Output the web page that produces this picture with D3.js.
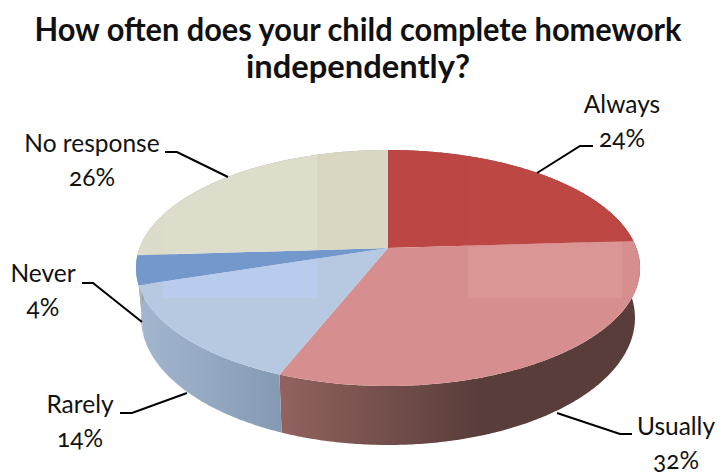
<!DOCTYPE html>
<html>
<head>
<meta charset="utf-8">
<script src="https://cdn.jsdelivr.net/npm/d3@7"></script>
<style>
  html, body { margin: 0; padding: 0; background: #fff; }
  svg { display: block; }
  .title { font-family: "Lato", sans-serif; font-weight: 700; font-size: 32px; fill: #111; }
  .label { font-family: "Lato", sans-serif; font-size: 24.5px; fill: #111; font-feature-settings: "onum" 1; }
  .leader { fill: none; stroke: #000; stroke-width: 2; }
</style>
</head>
<body>
<svg id="chart" width="720" height="473"></svg>
<script>
const categories = ["Always", "Usually", "Rarely", "Never", "No response"];
const percents = [24, 32, 14, 4, 26];
const titleLines = ["How often does your child complete homework", "independently?"];
const topColors = ["#bb4643", "#d68f8e", "#b6c9e1", "#7399cc", "#dddccb"];
const wallColors = [
  ["#8c3431", "#8c3431"],
  ["#92625f", "#583d3a"],
  ["#a3b6d0", "#849ab2"],
  ["#a3b6d0", "#a3b6d0"],
  ["#a5a493", "#a5a493"]
];

const svg = d3.select("#chart");
const defs = svg.append("defs");

// Perspective disc: the same unit circle projected onto the top and bottom planes.
const perspective = 0.1695;
const topPlane = { cx: 388, cy: 248, rx: 248.4, ry: 114.6 };
const bottomPlane = { cx: 388, cy: 296.4, rx: 243.4, ry: 123.4 };
const project = (plane, angle) => {
  const u = Math.sin(angle), v = Math.cos(angle), w = 1 + perspective * v;
  return [plane.cx + plane.rx * u / w, plane.cy - plane.ry * v / w];
};

const pie = d3.pie().sort(null).value(d => d)(percents);
const sampleArc = (plane, a0, a1) => {
  const n = Math.max(2, Math.ceil((a1 - a0) / 0.01));
  return d3.range(n + 1).map(i => project(plane, a0 + (a1 - a0) * i / n));
};
const line = d3.line();

// Side walls first, the top faces cover whatever lies behind them.
pie.forEach((s, i) => {
  const pts = sampleArc(topPlane, s.startAngle, s.endAngle)
    .concat(sampleArc(bottomPlane, s.startAngle, s.endAngle).reverse());
  const xs = d3.extent(pts, p => p[0]);
  const grad = defs.append("linearGradient").attr("id", "wall" + i)
    .attr("gradientUnits", "userSpaceOnUse")
    .attr("x1", i === 1 ? 282 : xs[0]).attr("x2", i === 1 ? 480 : xs[1])
    .attr("y1", 0).attr("y2", 0);
  grad.append("stop").attr("offset", 0).attr("stop-color", wallColors[i][0]);
  grad.append("stop").attr("offset", 1).attr("stop-color", wallColors[i][1]);
  svg.append("path").attr("d", line(pts) + "Z").attr("fill", `url(#wall${i})`);
});

// Top faces, each with its own clip so the pale gloss tiles stay inside the slice.
pie.forEach((s, i) => {
  const d = line([[topPlane.cx, topPlane.cy]].concat(sampleArc(topPlane, s.startAngle, s.endAngle))) + "Z";
  svg.append("path").attr("d", d).attr("fill", topColors[i]);
  defs.append("clipPath").attr("id", "face" + i).append("path").attr("d", d);
});

// Gloss tiles lying over the face.
const tiles = [
  { slice: 4, x: 163, y: 150, w: 154, h: 148, color: "#fff", opacity: 0.03 },
  { slice: 4, x: 317, y: 150, w: 71, h: 100, color: "#c9c39a", opacity: 0.18 },
  { slice: 2, x: 163, y: 250, w: 154, h: 48, color: "#bccdf2", opacity: 0.7 },
  { slice: 1, x: 468, y: 230, w: 154, h: 68, color: "#dd9696", opacity: 0.85 },
  { slice: 0, x: 468, y: 150, w: 154, h: 100, color: "#bd4744", opacity: 0.5 }
];
tiles.forEach(t => {
  svg.append("rect")
    .attr("x", t.x).attr("y", t.y).attr("width", t.w).attr("height", t.h)
    .attr("fill", t.color).attr("opacity", t.opacity)
    .attr("clip-path", `url(#face${t.slice})`);
});

// Title, condensed to the width of the heading block.
const titleWidths = [647, 224];
svg.selectAll("text.title").data(titleLines).join("text")
  .attr("class", "title").attr("text-anchor", "middle")
  .attr("x", 358).attr("y", (d, i) => 41 + i * 37)
  .attr("textLength", (d, i) => titleWidths[i])
  .attr("lengthAdjust", "spacingAndGlyphs")
  .text(d => d);

// Data labels and leaders
const labelAnchors = [[622, 113], [676, 435], [80, 413], [43, 282], [92, 152]];
const leaders = [
  [[537, 173], [580, 146], [593, 146]],
  [[557, 413], [620, 434], [632, 434]],
  [[187, 393], [132, 413], [120, 413]],
  [[142, 322], [93, 283], [82, 283]],
  [[228, 177], [177, 152], [165, 152]]
];
categories.forEach((c, i) => {
  svg.append("text").attr("class", "label").attr("text-anchor", "middle")
    .attr("x", labelAnchors[i][0]).attr("y", labelAnchors[i][1]).text(c);
  svg.append("text").attr("class", "label").attr("text-anchor", "middle")
    .attr("x", labelAnchors[i][0]).attr("y", labelAnchors[i][1] + 34).text(percents[i] + "%");
  svg.append("path").attr("class", "leader").attr("d", line(leaders[i]));
});
</script>
</body>
</html>
